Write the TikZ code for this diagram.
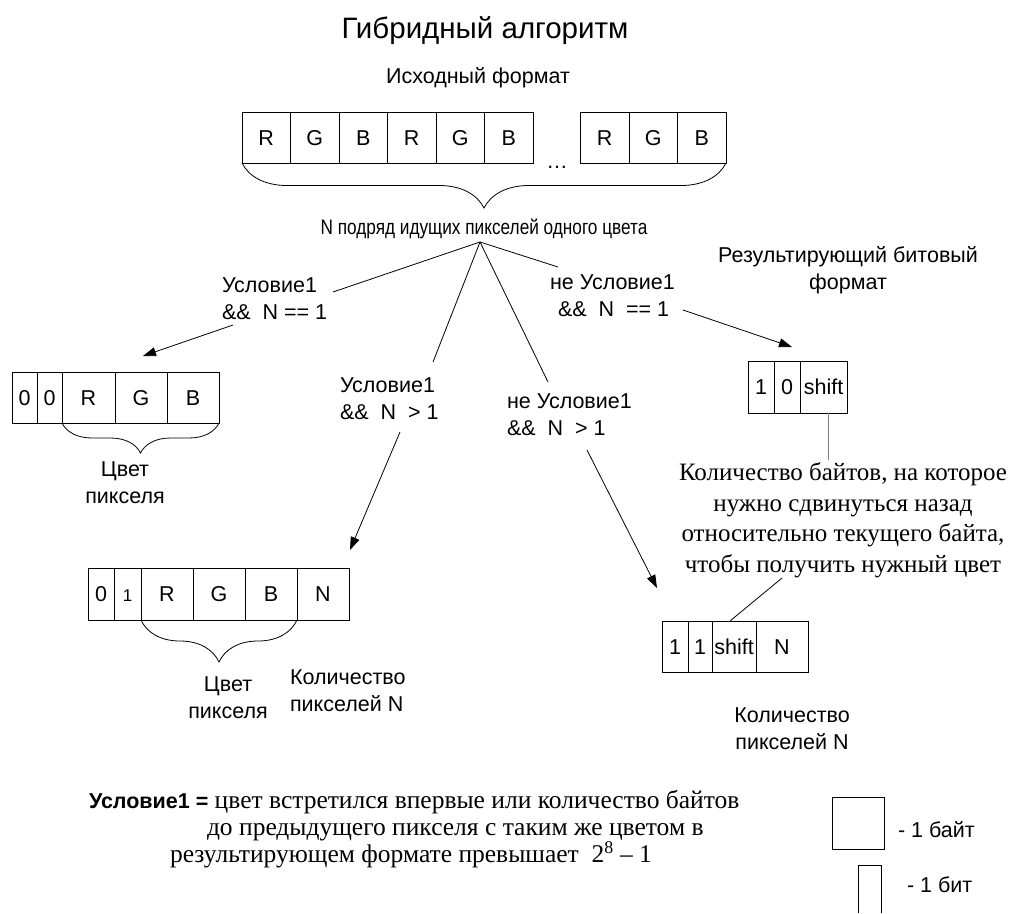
\documentclass[tikz,border=0pt]{standalone}
\usepackage{fontspec}
\setmainfont{Liberation Serif}
\newfontfamily\arial{Liberation Sans}
\usetikzlibrary{arrows.meta,decorations.pathreplacing}
\begin{document}
\begin{tikzpicture}[x=1pt,y=-1pt,
  every node/.style={inner sep=0pt,outer sep=0pt},
  sf/.style={font=\arial\fontsize{21.5}{27}\selectfont},
  ln/.style={line width=0.8pt},
  cell/.style={draw,ln,sf,minimum height=#1,text height=15.4pt,text depth=0pt},
  cell/.default=51pt,
  arr/.style={ln,-{Triangle[length=13pt,width=9pt]}},
  bracea/.style={ln,decorate,decoration={brace,mirror,amplitude=#1}},
  serif/.style={font=\fontsize{25}{30.5}\selectfont},
  serifb/.style={font=\fontsize{25.5}{28}\selectfont}
]
\useasboundingbox (0,0) rectangle (1016,913);

% title
\node[font=\arial\fontsize{29.5}{34}\selectfont] (title) at (485,31) {Гибридный алгоритм};
\node[sf] (src) at (478,78) {Исходный формат};

% top row
\node[cell,minimum width=48.5pt] (t1) at (266.25,137.5) {R};
\node[cell,minimum width=48.5pt] (t2) at (314.75,137.5) {G};
\node[cell,minimum width=48.5pt] (t3) at (363.25,137.5) {B};
\node[cell,minimum width=48.5pt] (t4) at (411.75,137.5) {R};
\node[cell,minimum width=48.5pt] (t5) at (460.25,137.5) {G};
\node[cell,minimum width=48.5pt] (t6) at (508.75,137.5) {B};
\node[sf,anchor=base] (dots) at (557,168) {…};
\node[cell,minimum width=48.5pt] (t9) at (604.75,137.5) {R};
\node[cell,minimum width=48.5pt] (t10) at (653.25,137.5) {G};
\node[cell,minimum width=48.5pt] (t11) at (701.75,137.5) {B};
\draw[bracea=45pt] (t1.south west) -- (t11.south east);
\node[font=\arial\fontsize{21}{24}\selectfont] (npix) at (484,229) {\scalebox{0.82}[1]{N подряд идущих пикселей одного цвета}};

% branches
\coordinate (apex) at (480,242);
\node[sf,align=left,anchor=west] (L1) at (222,299) {Условие1\\\&\&\ \ N == 1};
\node[sf,align=left,anchor=west] (L2) at (340,399) {Условие1\\\&\&\ \ N\ \ > 1};
\node[sf,align=left,anchor=west] (L3) at (550,296) {не Условие1\\\hspace*{8pt}\&\&\ \ N\ \ == 1};
\node[sf,align=left,anchor=west] (L4) at (507,415) {не Условие1\\\&\&\ \ N\ \ > 1};

\coordinate (e1) at (333,292);
\coordinate (e2) at (433,362);
\coordinate (e3) at (548,382);
\coordinate (e4) at (558,267);
\draw[ln] (apex) -- (e1);
\draw[ln] (apex) -- (e2);
\draw[ln] (apex) -- (e3);
\draw[ln] (apex) -- (e4);

% row a : 0 0 R G B
\node[cell,minimum width=25pt] (a1) at (24.5,397.5) {0};
\node[cell,minimum width=25pt] (a2) at (49.5,397.5) {0};
\node[cell,minimum width=53pt] (a3) at (88.5,397.5) {R};
\node[cell,minimum width=52pt] (a4) at (141,397.5) {G};
\node[cell,minimum width=52pt] (a5) at (193,397.5) {B};
\draw[bracea=30pt] (a3.south west) -- (a5.south east);
\node[sf,align=center] (ca) at (125,483) {Цвет\\пикселя};

\coordinate (s1) at (233,325);
\coordinate (h1) at (143,356);
\draw[arr] (s1) -- (h1);

% row b : 0 1 R G B N
\node[cell=52pt,minimum width=26pt] (b1) at (101,594) {0};
\node[cell=52pt,minimum width=27pt,font=\arial\fontsize{17}{20}\selectfont] (b2) at (127.5,594) {1};
\node[cell=52pt,minimum width=52pt] (b3) at (167,594) {R};
\node[cell=52pt,minimum width=52pt] (b4) at (219,594) {G};
\node[cell=52pt,minimum width=52pt] (b5) at (271,594) {B};
\node[cell=52pt,minimum width=52pt] (b6) at (323,594) {N};
\draw[bracea=42pt] (b3.south west) -- (b5.south east);
\node[sf,align=center] (cb) at (228,698) {Цвет\\пикселя};
\node[sf,align=left,anchor=west] (nb) at (290,691) {Количество\\пикселей N};

\coordinate (s2) at (400,432);
\coordinate (h2) at (350,550);
\draw[arr] (s2) -- (h2);

% right title
\node[sf,align=center] (res) at (848,270) {Результирующий битовый\\формат};

% row c : 1 0 shift
\node[cell=52pt,minimum width=26pt] (c1) at (761,387) {1};
\node[cell=52pt,minimum width=26pt] (c2) at (787,387) {0};
\node[cell=52pt,minimum width=47pt] (c3) at (823.5,387) {shift};

\coordinate (s3) at (683,310);
\coordinate (h3) at (792,347);
\draw[arr] (s3) -- (h3);

% explanation
\node[serif,align=center] (sb) at (843,520) {Количество байтов, на которое\\нужно сдвинуться назад\\относительно текущего байта,\\чтобы получить нужный цвет};
\coordinate (g1) at (828,460);
\draw[ln,gray] ([xshift=4.5pt]c3.south) -- (g1);

% row d : 1 1 shift N
\node[cell,minimum width=26pt] (d1) at (675,646.5) {1};
\node[cell,minimum width=24pt] (d2) at (700,646.5) {1};
\node[cell,minimum width=44pt] (d3) at (734,646.5) {shift};
\node[cell,minimum width=52pt] (d4) at (782,646.5) {N};
\node[sf,align=center] (nd) at (792,729) {Количество\\пикселей N};

\coordinate (s4) at (587,450);
\coordinate (h4) at (657,588);
\draw[arr] (s4) -- (h4);
\coordinate (s5) at (782,578);
\draw[ln] (s5) -- ([xshift=-4pt]d3.north);

% bottom definition
\node[serifb,anchor=mid west] (def1) at (89,806) {{\arial\bfseries\fontsize{21.5}{25}\selectfont Условие1 =} цвет встретился впервые или количество байтов};
\node[serifb,anchor=mid west] (def2) at (207,833) {до предыдущего пикселя с таким же цветом в};
\node[serifb,anchor=mid west] (def3) at (170,860) {результирующем формате превышает\ \ 2\textsuperscript{8} – 1};

% legend
\node[draw,ln,minimum width=52pt,minimum height=52pt] (lbyte) at (858,823) {};
\node[sf,anchor=mid west] (tbyte) at (898,835) {- 1 байт};
\coordinate (lb1) at (858,913);
\coordinate (lb2) at (858,865);
\coordinate (lb3) at (881,865);
\coordinate (lb4) at (881,913);
\draw[ln] (lb1) -- (lb2) -- (lb3) -- (lb4);
\node[sf,anchor=mid west] (tbit) at (907,890) {- 1 бит};
\end{tikzpicture}
\end{document}
